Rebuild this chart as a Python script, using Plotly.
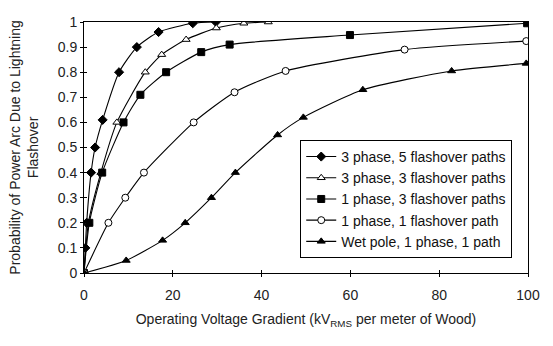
import plotly.graph_objects as go

# Operating voltage gradient (kV RMS per meter of wood) and probability for each configuration
x_3ph_5p = [0, 0.3, 0.6, 1.6, 2.5, 4.2, 7.9, 11.9, 16.8, 24.5, 29.7]
y_3ph_5p = [0, 0.1, 0.2, 0.40, 0.50, 0.61, 0.80, 0.90, 0.96, 0.995, 1.0]

x_3ph_3p = [0, 1.0, 3.8, 7.4, 13.8, 17.5, 23.0, 29.8, 36.0, 41.5]
y_3ph_3p = [0, 0.2, 0.40, 0.60, 0.80, 0.87, 0.93, 0.976, 0.995, 1.0]

x_1ph_3p = [0, 1.2, 4.1, 8.9, 12.7, 18.5, 26.4, 32.8, 59.9, 99.8]
y_1ph_3p = [0, 0.2, 0.40, 0.60, 0.71, 0.80, 0.88, 0.91, 0.948, 0.995]

x_1ph_1p = [0, 5.5, 9.3, 13.5, 24.7, 33.9, 45.4, 72.2, 99.6]
y_1ph_1p = [0, 0.20, 0.30, 0.40, 0.60, 0.72, 0.805, 0.89, 0.924]

x_wet = [0, 9.5, 17.7, 22.8, 28.7, 34.1, 43.6, 49.4, 62.8, 82.8, 99.6]
y_wet = [0, 0.05, 0.13, 0.20, 0.30, 0.40, 0.55, 0.62, 0.73, 0.805, 0.835]

x_ticks = [0, 20, 40, 60, 80, 100]
y_ticks = [0, 0.1, 0.2, 0.3, 0.4, 0.5, 0.6, 0.7, 0.8, 0.9, 1]
y_tick_text = ["0", "0.1", "0.2", "0.3", "0.4", "0.5", "0.6", "0.7", "0.8", "0.9", "1"]

series = [
    ("3 phase, 5 flashover paths", x_3ph_5p, y_3ph_5p, "diamond", "black", 7),
    ("3 phase, 3 flashover paths", x_3ph_3p, y_3ph_3p, "triangle-up", "white", 7),
    ("1 phase, 3 flashover paths", x_1ph_3p, y_1ph_3p, "square", "black", 7),
    ("1 phase, 1 flashover path", x_1ph_1p, y_1ph_1p, "circle", "white", 7),
    ("Wet pole, 1 phase, 1 path", x_wet, y_wet, "triangle-up", "black", 7),
]

fig = go.Figure()
for name, xs, ys, sym, fill, size in series:
    fig.add_trace(go.Scatter(
        x=xs, y=ys, name=name, mode="lines+markers",
        line=dict(color="black", width=1.1, shape="spline", smoothing=0.6),
        marker=dict(symbol=sym, size=size, color=fill,
                    line=dict(color="black", width=1)),
    ))

font_family = "Liberation Sans, Arial, sans-serif"
txt = "#222"

axis_common = dict(
    ticks="outside", ticklen=3, tickcolor="black", showline=True,
    linecolor="black", linewidth=1, mirror=True, showgrid=False,
    zeroline=False, tickfont=dict(size=14, color=txt),
)

fig.update_layout(
    width=553, height=346,
    margin=dict(l=84, r=25, t=22, b=73),
    paper_bgcolor="white", plot_bgcolor="white",
    font=dict(family=font_family, size=14, color=txt),
    showlegend=True,
    legend=dict(
        x=0.487, y=0.53, xanchor="left", yanchor="top",
        bgcolor="white", bordercolor="black", borderwidth=1,
        font=dict(size=14, color="#111"), itemwidth=30,
        tracegroupgap=0,
    ),
    xaxis=dict(
        range=[0, 100], tickvals=x_ticks, ticklabelstandoff=6,
        title=dict(text="Operating Voltage Gradient (kV<sub>RMS</sub> per meter of Wood)",
                   font=dict(size=14, color=txt), standoff=12),
        **axis_common,
    ),
    yaxis=dict(
        range=[0, 1], tickvals=y_ticks, ticktext=y_tick_text,
        **axis_common,
    ),
    # companion axes that carry the inner half of each tick mark
    xaxis2=dict(
        overlaying="x", matches="x", anchor="y", tickvals=x_ticks,
        ticks="inside", ticklen=3, tickcolor="black", showticklabels=False,
        showgrid=False, zeroline=False, showline=False,
    ),
    yaxis2=dict(
        overlaying="y", matches="y", anchor="x", tickvals=y_ticks,
        ticks="inside", ticklen=3, tickcolor="black", showticklabels=False,
        showgrid=False, zeroline=False, showline=False,
    ),
    annotations=[
        dict(text="Probability of Power Arc Due to Lightning<br>Flashover",
             xref="paper", yref="paper", x=-0.137, y=0.5, xanchor="center",
             yanchor="middle", textangle=-90, showarrow=False,
             font=dict(size=14, color=txt)),
    ],
)

# an empty trace binds the companion axes into a drawn subplot
fig.add_trace(go.Scatter(x=[], y=[], xaxis="x2", yaxis="y2",
                         showlegend=False, hoverinfo="skip"))

fig.write_html("out.html")
